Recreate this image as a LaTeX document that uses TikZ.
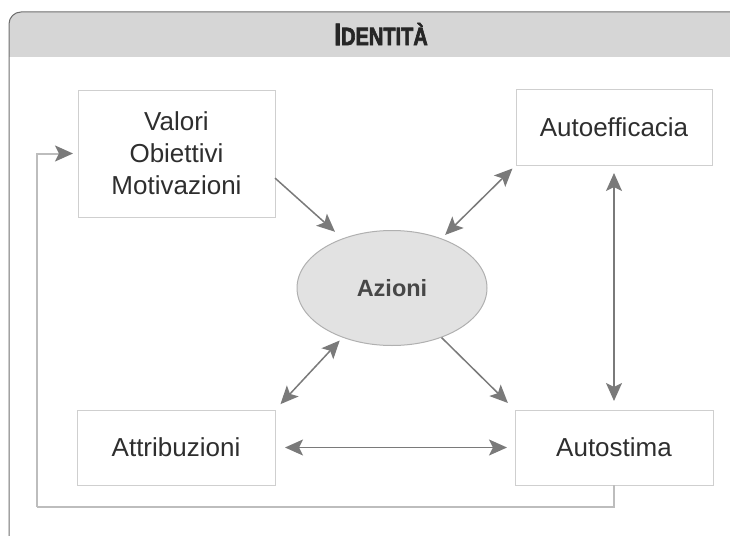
\documentclass[tikz,border=0pt]{standalone}
\usepackage{fontspec}
\setmainfont{Liberation Sans}
\newfontfamily\titlefont{Liberation Sans}[BoldFeatures={FakeBold=3}]
\usetikzlibrary{arrows.meta,shapes.geometric}
\definecolor{framegray}{HTML}{6E6E6E}
\definecolor{headgray}{HTML}{D6D6D6}
\definecolor{boxgray}{HTML}{CFCFCF}
\definecolor{arrgray}{HTML}{7A7A7A}
\definecolor{backgray}{HTML}{BDBDBD}
\definecolor{txtgray}{HTML}{2E2E2E}
\tikzset{
  box/.style={draw=boxgray, line width=1pt, inner sep=0pt, outer sep=0pt, align=center,
    text=txtgray, font=\fontsize{26}{32}\selectfont},
  arr/.style={draw=arrgray, line width=1.5pt, -{Stealth[length=18pt,width=16pt,inset=4pt,color=arrgray]}},
  darr/.style={arr, {Stealth[length=18pt,width=16pt,inset=4pt]}-{Stealth[length=18pt,width=16pt,inset=4pt]}},
}
\begin{document}
\begin{tikzpicture}[x=1pt,y=-1pt]
			%%%%% START %%%%%
			\useasboundingbox (0,0) rectangle (730,535);
			
			\fill[headgray] (9,57) [rounded corners=12pt] -- (9,12) [sharp corners] -- (745,12) -- (745,57) -- cycle;
			\draw[framegray, line width=1pt, rounded corners=12pt] (9,540) -- (9,12) -- (745,12);
			\node[text=black!85] (titolo) at (381,34)
				{\scalebox{0.8}[1]{\titlefont\bfseries\fontsize{31}{31}\selectfont I\fontsize{25}{25}\selectfont DENTITÀ}};
			
			\node[box, minimum width=197pt, minimum height=127pt] (valori) at (176.5,153.5) {Valori\\Obiettivi\\Motivazioni};
			\node[box, minimum width=196pt, minimum height=76pt] (autoeff) at (614,127) {Autoefficacia};
			\node[box, minimum width=198pt, minimum height=75pt] (attrib) at (176,447.5) {Attribuzioni};
			\node[box, minimum width=198pt, minimum height=75pt] (autostima) at (614,447.5) {Autostima};
			
			\node[ellipse, draw=boxgray!85!black, fill=headgray!70!white, line width=1pt, inner sep=0pt,
				minimum width=190pt, minimum height=115pt, text=black!72,
				font=\bfseries\fontsize{23.5}{24}\selectfont] (azioni) at (392,288) {Azioni};
			
			\draw[arr, shorten >=10pt] (valori.-14) -- (azioni.135);
			\draw[darr, shorten <=5pt, shorten >=5pt] (azioni.45) -- (autoeff.south west);
			\draw[darr, shorten <=4pt, shorten >=8pt] (azioni.-135) -- (attrib.north east);
			\draw[arr, shorten >=10pt] (azioni.-45) -- (autostima.north west);
			\draw[darr, shorten <=8pt, shorten >=9pt] (autoeff.south) -- (autostima.north);
			\draw[darr, shorten <=10pt, shorten >=8pt] (attrib.east) -- (autostima.west);
			
			\coordinate (ritorno) at (37,507);
			\draw[draw=backgray, line width=2pt] (autostima.south) |- (ritorno);
			\draw[arr, draw=backgray, line width=2pt, shorten >=5pt] (ritorno) |- (valori.west);
			
			%%%%% END %%%%%
\end{tikzpicture}
\end{document}
